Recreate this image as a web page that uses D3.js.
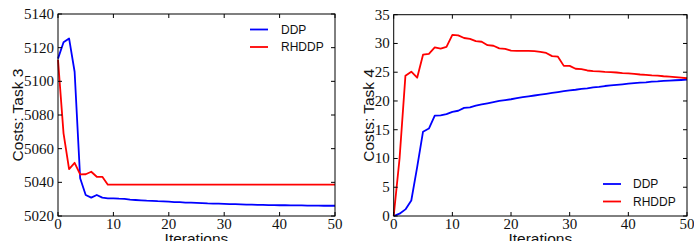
<!DOCTYPE html>
<html lang="en">
  <head>
    <meta charset="UTF-8" />
    <title>DDP vs RHDDP costs</title>
    <script src="https://cdn.jsdelivr.net/npm/d3@7/dist/d3.min.js"></script>
    <style>
      body {
        margin: 0;
        background-color: #ffffff;
      }
      svg text.tick-label {
        font-family: "Liberation Serif", "Times New Roman", serif;
        font-size: 15px;
        fill: #111;
      }
      svg text.axis-label {
        font-family: "Liberation Sans", Arial, sans-serif;
        font-size: 15.5px;
        fill: #111;
      }
      svg text.legend-label {
        font-family: "Liberation Sans", Arial, sans-serif;
        font-size: 12px;
        fill: #111;
      }
    </style>
  </head>
  <body>
    <div id="chart"></div>

    <script>
      // Iterations 0..50
      const iterations = d3.range(0, 51);

      // Task 3 costs
      const task3_ddp = [
        5113.5, 5123.2, 5125.5, 5105.7, 5042.4, 5032.5, 5030.9, 5032.5, 5030.9, 5030.5,
        5030.5, 5030.3, 5030.2, 5029.7, 5029.5, 5029.3, 5029.1, 5029.0, 5028.8, 5028.7,
        5028.5, 5028.3, 5028.2, 5028.0, 5027.9, 5027.8, 5027.7, 5027.5, 5027.4, 5027.3,
        5027.2, 5027.1, 5027.0, 5026.9, 5026.8, 5026.7, 5026.6, 5026.6, 5026.5, 5026.5,
        5026.4, 5026.4, 5026.3, 5026.3, 5026.3, 5026.2, 5026.2, 5026.2, 5026.1, 5026.1,
        5026.1,
      ];
      const task3_rhddp = [
        5112.8, 5069.1, 5047.9, 5051.6, 5044.7, 5044.8, 5046.3, 5043.3, 5043.3, 5038.6,
        5038.6, 5038.6, 5038.6, 5038.6, 5038.6, 5038.6, 5038.6, 5038.6, 5038.6, 5038.6,
        5038.6, 5038.6, 5038.6, 5038.6, 5038.6, 5038.6, 5038.6, 5038.6, 5038.6, 5038.6,
        5038.6, 5038.6, 5038.6, 5038.6, 5038.6, 5038.6, 5038.6, 5038.6, 5038.6, 5038.6,
        5038.6, 5038.6, 5038.6, 5038.6, 5038.6, 5038.6, 5038.6, 5038.6, 5038.6, 5038.6,
        5038.6,
      ];

      // Task 4 costs
      const task4_ddp = [
        0, 0.4, 1.15, 2.7, 8.5, 14.66, 15.2, 17.45, 17.5, 17.7,
        18.1, 18.3, 18.8, 18.9, 19.2, 19.4, 19.6, 19.8, 20.0, 20.15,
        20.3, 20.5, 20.65, 20.8, 20.95, 21.1, 21.25, 21.4, 21.55, 21.7,
        21.85, 21.95, 22.1, 22.2, 22.35, 22.45, 22.6, 22.7, 22.8, 22.9,
        23.0, 23.1, 23.2, 23.25, 23.35, 23.4, 23.5, 23.55, 23.6, 23.65,
        23.7,
      ];
      const task4_rhddp = [
        0, 10, 24.4, 25.1, 24.05, 28.05, 28.2, 29.3, 29.1, 29.4,
        31.5, 31.4, 30.95, 30.8, 30.4, 30.3, 29.7, 29.6, 29.15, 29.05,
        28.75, 28.7, 28.7, 28.7, 28.65, 28.55, 28.35, 27.8, 27.7, 26.1,
        26.1, 25.6, 25.55, 25.3, 25.2, 25.15, 25.05, 25.0, 24.95, 24.85,
        24.8, 24.7, 24.6, 24.55, 24.45, 24.4, 24.3, 24.25, 24.15, 24.05,
        23.95,
      ];

      // Tick labels
      const xTicks = [0, 10, 20, 30, 40, 50];
      const task3_yTicks = [5020, 5040, 5060, 5080, 5100, 5120, 5140];
      const task4_yTicks = [0, 5, 10, 15, 20, 25, 30, 35];

      const seriesNames = ["DDP", "RHDDP"];
      const seriesColors = ["#0000ff", "#ff0000"];

      const svg = d3
        .select("#chart")
        .append("svg")
        .attr("width", 694)
        .attr("height", 241);

      plotPanel({
        left: 58, right: 335, top: 14, bottom: 216,
        yDomain: [5020, 5140], yTicks: task3_yTicks,
        series: [task3_ddp, task3_rhddp],
        ylabel: "Costs: Task 3", ylabelX: 23,
        legend: { lineX: 250, textX: 281, y: 29.5 },
      });

      plotPanel({
        left: 393.7, right: 687, top: 14.7, bottom: 216,
        yDomain: [0, 35], yTicks: task4_yTicks,
        series: [task4_ddp, task4_rhddp],
        ylabel: "Costs: Task 4", ylabelX: 374,
        legend: { lineX: 603, textX: 633, y: 184 },
      });

      function plotPanel(cfg) {
        const g = svg.append("g");
        const width = cfg.right - cfg.left;
        const height = cfg.bottom - cfg.top;

        const x = d3.scaleLinear().domain([0, 50]).range([cfg.left, cfg.right]);
        const y = d3.scaleLinear().domain(cfg.yDomain).range([cfg.bottom, cfg.top]);

        // Lines
        const line = d3
          .line()
          .x((d, i) => x(iterations[i]))
          .y((d) => y(d));

        cfg.series.forEach((s, k) => {
          g.append("path")
            .datum(s)
            .attr("fill", "none")
            .attr("stroke", seriesColors[k])
            .attr("stroke-width", 1.8)
            .attr("stroke-linejoin", "round")
            .attr("d", line);
        });

        // Frame
        g.append("rect")
          .attr("x", cfg.left)
          .attr("y", cfg.top)
          .attr("width", width)
          .attr("height", height)
          .attr("fill", "none")
          .attr("stroke", "#000")
          .attr("stroke-width", 1);

        // inward ticks on all four sides (matplotlib classic)
        const tickLen = 4;
        xTicks.forEach((t) => {
          g.append("line")
            .attr("x1", x(t)).attr("x2", x(t))
            .attr("y1", cfg.bottom).attr("y2", cfg.bottom - tickLen)
            .attr("stroke", "#000");
          g.append("line")
            .attr("x1", x(t)).attr("x2", x(t))
            .attr("y1", cfg.top).attr("y2", cfg.top + tickLen)
            .attr("stroke", "#000");
          g.append("text")
            .attr("class", "tick-label")
            .attr("x", x(t))
            .attr("y", 229)
            .attr("text-anchor", "middle")
            .text(t);
        });
        cfg.yTicks.forEach((t) => {
          g.append("line")
            .attr("x1", cfg.left).attr("x2", cfg.left + tickLen)
            .attr("y1", y(t)).attr("y2", y(t))
            .attr("stroke", "#000");
          g.append("line")
            .attr("x1", cfg.right).attr("x2", cfg.right - tickLen)
            .attr("y1", y(t)).attr("y2", y(t))
            .attr("stroke", "#000");
          g.append("text")
            .attr("class", "tick-label")
            .attr("x", cfg.left - 4)
            .attr("y", y(t) + 5)
            .attr("text-anchor", "end")
            .text(t);
        });

        // Axis labels
        g.append("text")
          .attr("class", "axis-label")
          .attr("x", (cfg.left + cfg.right) / 2)
          .attr("y", 244)
          .attr("text-anchor", "middle")
          .text("Iterations");

        g.append("text")
          .attr("class", "axis-label")
          .attr("transform", `translate(${cfg.ylabelX},${(cfg.top + cfg.bottom) / 2}) rotate(-90)`)
          .attr("text-anchor", "middle")
          .text(cfg.ylabel);

        // Legend
        seriesNames.forEach((name, k) => {
          const ly = cfg.legend.y + k * 17.5;
          g.append("line")
            .attr("x1", cfg.legend.lineX)
            .attr("x2", cfg.legend.lineX + 18)
            .attr("y1", ly)
            .attr("y2", ly)
            .attr("stroke", seriesColors[k])
            .attr("stroke-width", 1.8);
          g.append("text")
            .attr("class", "legend-label")
            .attr("x", cfg.legend.textX)
            .attr("y", ly + 4.2)
            .text(name);
        });
      }
    </script>
  </body>
</html>
